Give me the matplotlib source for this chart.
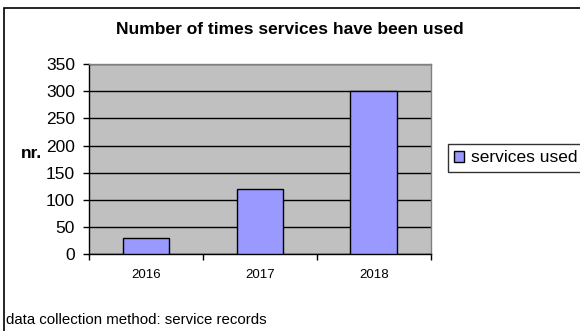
import matplotlib
matplotlib.use("Agg")
import matplotlib.pyplot as plt
from matplotlib.patches import Rectangle

plt.rcParams["font.family"] = ["Liberation Sans", "DejaVu Sans"]

# services used per year
years = ["2016", "2017", "2018"]
services_used = [30, 120, 300]
y_ticks = [0, 50, 100, 150, 200, 250, 300, 350]

W, H = 580, 331
fig = plt.figure(figsize=(W / 100, H / 100), dpi=100)

# outer chart frame (runs off the right and bottom edges)
fig.patches.append(Rectangle((4 / W, -0.1), 1.2, 1 - 8 / H + 0.1,
                             transform=fig.transFigure, fill=False,
                             edgecolor="black", linewidth=1.2))

ax = fig.add_axes([89 / W, 1 - 254.3 / H, (430.7 - 89) / W, (254.3 - 64) / H])
ax.set_facecolor("#C0C0C0")

x = range(len(years))
ax.bar(x, services_used, width=0.41, color="#9999FF", edgecolor="black",
       linewidth=1, zorder=3, label="services used")

ax.set_xlim(-0.5, len(years) - 0.5)
ax.set_ylim(0, 350)
ax.set_yticks(y_ticks)
ax.set_yticklabels([str(v) for v in y_ticks], fontsize=12.5)
ax.yaxis.grid(True, color="black", linewidth=1, zorder=1)
ax.set_axisbelow(True)

# category labels centred, tick marks on the category boundaries
ax.set_xticks([i - 0.5 for i in range(len(years) + 1)])
ax.set_xticklabels([])
ax.tick_params(axis="x", direction="out", length=4, width=1, color="black")
ax.tick_params(axis="y", direction="out", length=4, width=1, pad=6)
for i, yr in enumerate(years):
    ax.text(i, -0.11, yr, transform=ax.get_xaxis_transform(),
            ha="center", va="center", fontsize=9.5)

ax.spines["left"].set_color("black")
ax.spines["bottom"].set_color("black")
ax.spines["top"].set_color("#808080")
ax.spines["right"].set_color("#808080")
for s in ax.spines.values():
    s.set_linewidth(1)

fig.text(290 / W, 1 - 30 / H, "Number of times services have been used",
         ha="center", va="center", fontsize=12.5, fontweight="bold")
fig.text(31 / W, 1 - 153 / H, "nr.", ha="center", va="center",
         fontsize=12.5, fontweight="bold")
fig.text(6 / W, 1 - 320 / H, "data collection method: service records",
         ha="left", va="center", fontsize=10.8)

leg = fig.legend(loc="center left", bbox_to_anchor=(448 / W, 1 - 158 / H),
                 fontsize=12.5, frameon=True, fancybox=False,
                 handlelength=0.6, handleheight=0.6, handletextpad=0.4,
                 borderpad=0.35, borderaxespad=0)
leg.get_frame().set_edgecolor("black")
leg.get_frame().set_linewidth(1)

fig.savefig("out.png", dpi=100)
